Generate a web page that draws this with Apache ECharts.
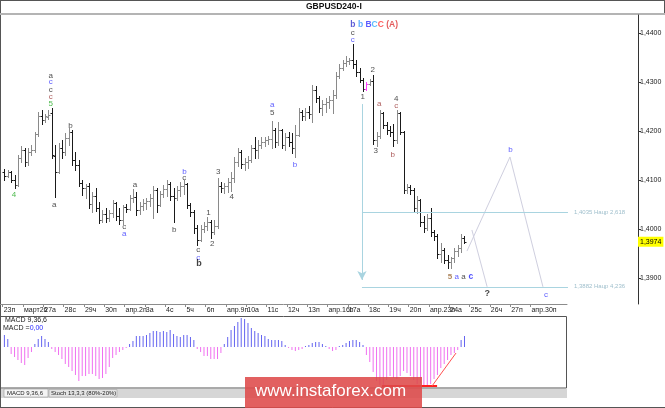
<!DOCTYPE html>
<html>
<head>
<meta charset="utf-8">
<script src="https://cdn.jsdelivr.net/npm/echarts@6/dist/echarts.min.js"></script>
<style>
  html, body { margin: 0; padding: 0; background: #fff; }
  #chart { width: 665px; height: 408px; }
</style>
</head>
<body>
<div id="chart"></div>
<script>
// day labels, one per trading day (6 bars of 4h each)
const dayLabels = ['23п', 'март26', '27а', '28с', '29ч', '30п', 'апр.2п', '3а', '4с', '5ч', '6п',
  'апр.9п', '10а', '11с', '12ч', '13п', 'апр.16п', '17а', '18с', '19ч', '20п', 'апр.23п', '24а',
  '25с', '26ч', '27п', 'апр.30п', '1а']
const barsPerDay = 6

const opens = [1.4116, 1.4108, 1.4116, 1.4100, 1.4090, 1.4145, 1.4161, 1.4137, 1.4157, 1.4161,
  1.4194, 1.4231, 1.4222, 1.4229, 1.4237, 1.4149, 1.4116, 1.4165, 1.4157, 1.4186,
  1.4198, 1.4141, 1.4131, 1.4094, 1.4084, 1.4088, 1.4051, 1.4067, 1.4043, 1.4018,
  1.4031, 1.4023, 1.4033, 1.4053, 1.4027, 1.4018, 1.4045, 1.4041, 1.4063, 1.4065,
  1.4039, 1.4047, 1.4053, 1.4057, 1.4063, 1.4080, 1.4049, 1.4071, 1.4082, 1.4092,
  1.4067, 1.4063, 1.4080, 1.4088, 1.4092, 1.4049, 1.4035, 1.4002, 1.3978, 1.4000,
  1.4006, 1.4014, 1.3994, 1.4006, 1.4088, 1.4084, 1.4088, 1.4096, 1.4104, 1.4137,
  1.4157, 1.4133, 1.4137, 1.4141, 1.4165, 1.4161, 1.4171, 1.4178, 1.4182, 1.4184,
  1.4202, 1.4178, 1.4202, 1.4171, 1.4188, 1.4178, 1.4165, 1.4192, 1.4239, 1.4231,
  1.4239, 1.4235, 1.4284, 1.4267, 1.4247, 1.4255, 1.4259, 1.4263, 1.4273, 1.4312,
  1.4329, 1.4339, 1.4343, 1.4345, 1.4337, 1.4320, 1.4304, 1.4286, 1.4296, 1.4302,
  1.4182, 1.4190, 1.4237, 1.4212, 1.4202, 1.4198, 1.4182, 1.4237, 1.4198, 1.4080,
  1.4086, 1.4080, 1.4043, 1.4059, 1.4014, 1.4002, 1.4023, 1.3994, 1.3986, 1.3949,
  1.3957, 1.3937, 1.3933, 1.3941, 1.3955, 1.3961, 1.3982]
const highs = [1.4123, 1.4120, 1.4118, 1.4110, 1.4151, 1.4169, 1.4165, 1.4165, 1.4171, 1.4198,
  1.4239, 1.4243, 1.4235, 1.4243, 1.4247, 1.4171, 1.4176, 1.4182, 1.4196, 1.4206,
  1.4202, 1.4157, 1.4141, 1.4100, 1.4092, 1.4094, 1.4076, 1.4084, 1.4055, 1.4039,
  1.4043, 1.4039, 1.4059, 1.4055, 1.4043, 1.4049, 1.4051, 1.4069, 1.4082, 1.4076,
  1.4055, 1.4061, 1.4063, 1.4071, 1.4088, 1.4084, 1.4078, 1.4090, 1.4100, 1.4096,
  1.4084, 1.4088, 1.4096, 1.4100, 1.4094, 1.4053, 1.4039, 1.4008, 1.4008, 1.4014,
  1.4025, 1.4018, 1.4018, 1.4104, 1.4096, 1.4094, 1.4104, 1.4116, 1.4147, 1.4165,
  1.4161, 1.4145, 1.4149, 1.4171, 1.4188, 1.4182, 1.4188, 1.4188, 1.4190, 1.4220,
  1.4206, 1.4218, 1.4204, 1.4196, 1.4198, 1.4196, 1.4212, 1.4247, 1.4243, 1.4247,
  1.4251, 1.4294, 1.4292, 1.4271, 1.4263, 1.4267, 1.4271, 1.4284, 1.4320, 1.4337,
  1.4345, 1.4353, 1.4349, 1.4378, 1.4345, 1.4329, 1.4308, 1.4300, 1.4306, 1.4314,
  1.4198, 1.4243, 1.4239, 1.4218, 1.4210, 1.4214, 1.4243, 1.4239, 1.4200, 1.4092,
  1.4090, 1.4084, 1.4067, 1.4061, 1.4027, 1.4031, 1.4043, 1.3998, 1.3990, 1.3972,
  1.3961, 1.3947, 1.3943, 1.3961, 1.3967, 1.3990, 1.3986]
const lows = [1.4100, 1.4106, 1.4096, 1.4084, 1.4088, 1.4137, 1.4129, 1.4131, 1.4151, 1.4157,
  1.4190, 1.4214, 1.4218, 1.4225, 1.4145, 1.4065, 1.4114, 1.4145, 1.4151, 1.4171,
  1.4131, 1.4120, 1.4088, 1.4069, 1.4063, 1.4043, 1.4035, 1.4037, 1.4012, 1.4014,
  1.4014, 1.4016, 1.4025, 1.4018, 1.4010, 1.4010, 1.4035, 1.4039, 1.4055, 1.4029,
  1.4031, 1.4039, 1.4041, 1.4047, 1.4023, 1.4035, 1.4047, 1.4065, 1.4067, 1.4059,
  1.4014, 1.4059, 1.4067, 1.4071, 1.4043, 1.4027, 1.3992, 1.3967, 1.3976, 1.3994,
  1.3998, 1.3982, 1.3990, 1.4002, 1.4076, 1.4074, 1.4076, 1.4078, 1.4096, 1.4129,
  1.4125, 1.4120, 1.4125, 1.4137, 1.4145, 1.4145, 1.4165, 1.4169, 1.4174, 1.4165,
  1.4167, 1.4171, 1.4165, 1.4161, 1.4169, 1.4155, 1.4147, 1.4190, 1.4222, 1.4222,
  1.4227, 1.4218, 1.4259, 1.4239, 1.4233, 1.4239, 1.4247, 1.4237, 1.4267, 1.4308,
  1.4325, 1.4333, 1.4337, 1.4329, 1.4312, 1.4300, 1.4282, 1.4284, 1.4294, 1.4174,
  1.4169, 1.4186, 1.4206, 1.4194, 1.4190, 1.4169, 1.4176, 1.4194, 1.4074, 1.4074,
  1.4071, 1.4035, 1.4033, 1.4006, 1.3994, 1.3998, 1.3986, 1.3978, 1.3941, 1.3933,
  1.3931, 1.3921, 1.3921, 1.3933, 1.3945, 1.3953, 1.3972]
const closes = [1.4108, 1.4116, 1.4100, 1.4090, 1.4145, 1.4161, 1.4137, 1.4157, 1.4161, 1.4194,
  1.4231, 1.4222, 1.4231, 1.4233, 1.4151, 1.4116, 1.4165, 1.4157, 1.4186, 1.4198,
  1.4141, 1.4131, 1.4094, 1.4084, 1.4088, 1.4051, 1.4067, 1.4043, 1.4018, 1.4031,
  1.4023, 1.4033, 1.4053, 1.4027, 1.4018, 1.4045, 1.4041, 1.4063, 1.4065, 1.4039,
  1.4047, 1.4053, 1.4057, 1.4063, 1.4080, 1.4049, 1.4071, 1.4082, 1.4092, 1.4067,
  1.4063, 1.4080, 1.4088, 1.4092, 1.4049, 1.4035, 1.4002, 1.3978, 1.4000, 1.4006,
  1.4014, 1.3994, 1.4006, 1.4088, 1.4084, 1.4088, 1.4096, 1.4104, 1.4137, 1.4157,
  1.4133, 1.4137, 1.4141, 1.4165, 1.4161, 1.4171, 1.4178, 1.4182, 1.4184, 1.4202,
  1.4178, 1.4202, 1.4171, 1.4188, 1.4178, 1.4165, 1.4192, 1.4239, 1.4231, 1.4239,
  1.4235, 1.4284, 1.4267, 1.4247, 1.4255, 1.4259, 1.4263, 1.4273, 1.4312, 1.4329,
  1.4339, 1.4343, 1.4345, 1.4337, 1.4320, 1.4304, 1.4286, 1.4296, 1.4302, 1.4182,
  1.4190, 1.4237, 1.4212, 1.4202, 1.4198, 1.4182, 1.4237, 1.4198, 1.4080, 1.4086,
  1.4080, 1.4043, 1.4059, 1.4014, 1.4002, 1.4023, 1.3994, 1.3986, 1.3949, 1.3957,
  1.3937, 1.3933, 1.3941, 1.3955, 1.3961, 1.3982, 1.3974]

// MACD 9,36,6 histogram, one value per bar
const macdHist = [0.0012, 0.0008, -0.0007, -0.0010, -0.0013, -0.0016, -0.0018, -0.0011, -0.0005, 0.0003,
  0.0008, 0.0011, 0.0008, 0.0005, -0.0002, -0.0005, -0.0008, -0.0012, -0.0017, -0.0020,
  -0.0024, -0.0028, -0.0034, -0.0029, -0.0029, -0.0027, -0.0027, -0.0029, -0.0032, -0.0031,
  -0.0027, -0.0020, -0.0011, -0.0008, -0.0005, -0.0003, -0.0001, 0.0003, 0.0006, 0.0011,
  0.0011, 0.0011, 0.0012, 0.0014, 0.0016, 0.0016, 0.0015, 0.0016, 0.0015, 0.0017,
  0.0013, 0.0011, 0.0010, 0.0012, 0.0012, 0.0010, 0.0007, -0.0002, -0.0005, -0.0009,
  -0.0009, -0.0012, -0.0012, -0.0012, -0.0006, 0.0003, 0.0010, 0.0017, 0.0021, 0.0025,
  0.0029, 0.0028, 0.0024, 0.0019, 0.0016, 0.0014, 0.0012, 0.0011, 0.0008, 0.0007,
  0.0007, 0.0007, 0.0006, 0.0002, -0.0001, -0.0003, -0.0004, -0.0003, -0.0002, 0.0001,
  0.0002, 0.0004, 0.0005, 0.0005, 0.0003, 0.0001, -0.0002, -0.0004, -0.0003, 0.0001,
  0.0002, 0.0004, 0.0006, 0.0007, 0.0007, 0.0005, 0.0002, -0.0008, -0.0015, -0.0025,
  -0.0034, -0.0038, -0.0038, -0.0033, -0.0029, -0.0031, -0.0032, -0.0029, -0.0024, -0.0026,
  -0.0029, -0.0033, -0.0037, -0.0036, -0.0038, -0.0039, -0.0037, -0.0032, -0.0028, -0.0021,
  -0.0017, -0.0013, -0.0008, -0.0006, -0.0003, 0.0007, 0.0011]

const priceTicks = [1.39, 1.40, 1.41, 1.42, 1.43, 1.44]
const priceMin = 1.384694
const priceMax = 1.443673
const lastPrice = 1.3974
const markedBar = 107

// expansion levels drawn from the vertical measuring line
const fibLevels = [1.4035, 1.3882]
const fibTexts = ['1,4035 Нацр 2,618', '1,3882 Нацр 4,236']
const fibStart = 105.7
const fibEnd = 166.6
const measureLine = [[105.7, 1.4255], [105.7, 1.3896]]

// projected waves
const projMain = [[136.75, 1.3955], [149.45, 1.4147], [159.2, 1.3882]]
const projAlt = [[138.2, 1.3998], [142.7, 1.3882]]

// MACD trend marks
const macdFloor = [[111.6, -0.0039], [127.9, -0.0039]]
const macdTrend = [[126.4, -0.0039], [133.5, -0.0006]]

// wave labels [bar, price, text]
const labelsDark = [[13.7, 1.4312, 'a'], [13.7, 1.4285, 'c'], [19.5, 1.4211, 'b'], [14.7, 1.4049, 'a'],
  [35.4, 1.4004, 'c'], [38.6, 1.4090, 'a'], [50.2, 1.3998, 'b'], [53.2, 1.4104, 'c'],
  [57.3, 1.3957, 'c'], [60.3, 1.4034, '1'], [61.4, 1.3969, '2'], [63.2, 1.4117, '3'],
  [67.2, 1.4066, '4'], [79.2, 1.4237, '5'], [103.0, 1.4401, 'c'], [108.9, 1.4324, '2'],
  [105.9, 1.4270, '1'], [115.8, 1.4265, '4'], [109.8, 1.4160, '3'], [135.7, 1.3903, 'a']]
const labelsBlue = [[13.7, 1.4301, 'c'], [35.4, 1.3991, 'a'], [53.2, 1.4117, 'b'], [57.3, 1.3942, 'c'],
  [79.2, 1.4253, 'a'], [85.9, 1.4131, 'b'], [103.0, 1.4387, 'c'], [133.7, 1.3903, 'a'],
  [149.6, 1.4161, 'b'], [160.1, 1.3865, 'c']]
const labelsBlueBold = [[137.9, 1.3903, 'c']]
const labelsRed = [[13.7, 1.4269, 'c'], [110.8, 1.4256, 'a'], [115.8, 1.4251, 'c'], [114.8, 1.4151, 'b']]
const labelsGreen = [[13.7, 1.4255, '5'], [2.8, 1.4069, '4']]
const labelsBrown = [[131.7, 1.3903, '5']]
const labelsBold = [[57.5, 1.3929, 'b'], [142.7, 1.3869, '?']]
const headerLabel = [[103.0, 1.4418, 'b b BCC (A)']]

const FONT = 'Liberation Sans'
const fmtPrice = v => v.toFixed(4).replace('.', ',')
const dayTicks = dayLabels.map((_, d) => d * barsPerDay - 0.5)

const bars = opens.map((o, i) => [i, o, highs[i], lows[i], closes[i]])

function renderBar(params, api) {
  const i = api.value(0)
  const o = api.coord([i, api.value(1)])
  const h = api.coord([i, api.value(2)])
  const l = api.coord([i, api.value(3)])
  const c = api.coord([i, api.value(4)])
  const x = Math.round(o[0]) + 0.5
  const up = api.value(4) >= api.value(1)
  const color = i === markedBar ? '#ff40ff' : (up ? '#8a8a8a' : '#1a1a1a')
  const style = { stroke: color, lineWidth: 1 }
  const yo = Math.round(o[1]) + 0.5
  const yc = Math.round(c[1]) + 0.5
  return {
    type: 'group',
    children: [
      { type: 'line', shape: { x1: x, y1: Math.round(h[1]), x2: x, y2: Math.round(l[1]) + 1 }, style },
      { type: 'line', shape: { x1: x - 2, y1: yo, x2: x, y2: yo }, style },
      { type: 'line', shape: { x1: x, y1: yc, x2: x + 2, y2: yc }, style }
    ]
  }
}

function labelSeries(data, color, extra) {
  return {
    type: 'scatter', xAxisIndex: 0, yAxisIndex: 0, data, symbolSize: 0.1, silent: true,
    itemStyle: { color: 'transparent' }, z: 5,
    label: Object.assign({
      show: true, position: 'inside', formatter: p => p.value[2],
      color, fontSize: 8, fontFamily: FONT
    }, extra || {})
  }
}

const chart = echarts.init(document.getElementById('chart'))
chart.setOption({
  backgroundColor: '#fff',
  animation: false,
  textStyle: { fontFamily: FONT },
  grid: [
    { left: 0, right: 27, top: 15, height: 289 },
    { left: 0, width: 567, top: 316, height: 72 },
    { left: 0, width: 567, top: 15, height: 289 }
  ],
  xAxis: [
    { type: 'value', gridIndex: 0, min: -1.3, max: 187.3, show: false },
    { type: 'value', gridIndex: 1, min: -1.3, max: 166.3, show: false },
    {
      type: 'value', gridIndex: 2, min: -1.3, max: 166.3,
      splitLine: { show: false },
      axisLine: { show: true, onZero: false, lineStyle: { color: '#8c8c8c', width: 1 } },
      axisTick: { show: true, customValues: dayTicks, length: 3, lineStyle: { color: '#8c8c8c' } },
      axisLabel: {
        customValues: dayTicks, align: 'left', margin: 3, fontSize: 7, color: '#222',
        padding: [0, 0, 0, 1],
        formatter: v => dayLabels[Math.round((v + 0.5) / barsPerDay)]
      }
    }
  ],
  yAxis: [
    {
      type: 'value', gridIndex: 0, position: 'right', min: priceMin, max: priceMax,
      splitLine: { show: false },
      axisLine: { show: true, onZero: false, lineStyle: { color: '#333' } },
      axisTick: { show: true, customValues: priceTicks, length: 3, lineStyle: { color: '#333' } },
      axisLabel: { customValues: priceTicks, formatter: fmtPrice, fontSize: 7, margin: 2, color: '#222' }
    },
    { type: 'value', gridIndex: 1, min: -0.0041, max: 0.0031, show: false },
    { type: 'value', gridIndex: 2, min: priceMin, max: priceMax, show: false }
  ],
  series: [
    {
      type: 'custom', xAxisIndex: 0, yAxisIndex: 0, data: bars,
      encode: { x: 0, y: [1, 2, 3, 4] }, renderItem: renderBar, silent: true, z: 3
    },
    {
      type: 'line', xAxisIndex: 0, yAxisIndex: 0, data: projMain, symbol: 'none', silent: true,
      lineStyle: { color: '#cfcfdf', width: 1 }, z: 2,
      markLine: {
        silent: true, symbol: 'none', animation: false,
        data: [
          ...fibLevels.map((lv, i) => [
            { coord: [fibStart, lv], lineStyle: { color: '#a9d4e0', width: 1, type: 'solid' },
              label: { show: true, position: 'end', formatter: fibTexts[i], color: '#9fbfcc', fontSize: 6, distance: 6 } },
            { coord: [fibEnd, lv] }
          ]),
          [
            { coord: measureLine[0], symbol: 'none', lineStyle: { color: '#a9d4e0', width: 1, type: 'solid' }, label: { show: false } },
            { coord: measureLine[1], symbol: 'arrow', symbolSize: [7, 9] }
          ],
          [
            { coord: [-1.3, lastPrice], lineStyle: { color: 'rgba(0,0,0,0)', width: 1 },
              label: { show: true, position: 'end', formatter: fmtPrice(lastPrice), backgroundColor: '#ffff00',
                color: '#000', fontSize: 7, padding: [2, 2, 1, 2], distance: 0 } },
            { coord: [187.3, lastPrice] }
          ]
        ]
      }
    },
    {
      type: 'line', xAxisIndex: 0, yAxisIndex: 0, data: projAlt, symbol: 'none', silent: true,
      lineStyle: { color: '#cfcfdf', width: 1 }, z: 2
    },
    labelSeries(labelsDark, '#222'),
    labelSeries(labelsBlue, '#3333ff'),
    labelSeries(labelsBlueBold, '#2222ff', { fontWeight: 'bold', fontSize: 8.5 }),
    labelSeries(labelsRed, '#993333'),
    labelSeries(labelsGreen, '#22aa22'),
    labelSeries(labelsBrown, '#996633', { fontWeight: 'bold' }),
    labelSeries(labelsBold, '#111', { fontWeight: 'bold', fontSize: 9 }),
    labelSeries(headerLabel, '#333', {
      align: 'left', offset: [-2.5, 0], fontWeight: 'bold', fontSize: 8.5,
      formatter: '{a|b} {b|b} {c|B}{d|C}{e|C} {f|(A)}',
      rich: {
        a: { color: '#3333cc', fontWeight: 'bold', fontSize: 8.5 },
        b: { color: '#3399ff', fontWeight: 'bold', fontSize: 8.5 },
        c: { color: '#3333ff', fontWeight: 'bold', fontSize: 8.5 },
        d: { color: '#33aaff', fontWeight: 'bold', fontSize: 8.5 },
        e: { color: '#ff3333', fontWeight: 'bold', fontSize: 8.5 },
        f: { color: '#dd3333', fontWeight: 'bold', fontSize: 8.5 }
      }
    }),
    {
      type: 'bar', xAxisIndex: 1, yAxisIndex: 1, barWidth: 1, silent: true,
      data: macdHist.map((v, i) => [i, v]),
      itemStyle: { color: p => (p.value[1] >= 0 ? '#6464f0' : '#f070f0') },
      markLine: {
        silent: true, symbol: 'none', animation: false, label: { show: false },
        data: [
          [{ coord: macdFloor[0], lineStyle: { color: '#ff2020', width: 2, type: 'solid' } }, { coord: macdFloor[1] }],
          [{ coord: macdTrend[0], lineStyle: { color: '#ff5050', width: 1, type: 'solid' } }, { coord: macdTrend[1] }]
        ]
      }
    }
  ],
  graphic: [
    // frame and title bar
    { type: 'line', shape: { x1: 0, y1: 0.5, x2: 665, y2: 0.5 }, style: { stroke: '#555' }, silent: true },
    { type: 'line', shape: { x1: 0.5, y1: 0, x2: 0.5, y2: 408 }, style: { stroke: '#555' }, silent: true },
    { type: 'line', shape: { x1: 0, y1: 407.5, x2: 665, y2: 407.5 }, style: { stroke: '#555' }, silent: true },
    { type: 'line', shape: { x1: 664.5, y1: 0, x2: 664.5, y2: 15 }, style: { stroke: '#555' }, silent: true },
    { type: 'rect', shape: { x: 0, y: 13, width: 665, height: 2 }, style: { fill: '#b4b4b4' }, silent: true },
    { type: 'text', left: 306, top: 2, silent: true,
      style: { text: 'GBPUSD240-I', fontSize: 8.5, fontWeight: 'bold', fill: '#111', fontFamily: FONT } },
    // MACD panel
    { type: 'rect', shape: { x: 0.5, y: 316.5, width: 566, height: 71.5 }, style: { fill: 'none', stroke: '#555' }, silent: true },
    { type: 'text', left: 5, top: 317, silent: true,
      style: { text: 'MACD 9,36,6', fontSize: 7, fill: '#222', fontFamily: FONT } },
    { type: 'text', left: 3, top: 324.5, silent: true,
      style: { text: '{k|MACD =}{v|0,00}', fontSize: 7, fontFamily: FONT,
        rich: { k: { fill: '#222', fontSize: 7 }, v: { fill: '#2a2aff', fontSize: 7 } } } },
    // tab strip
    { type: 'rect', shape: { x: 1, y: 389, width: 566, height: 9 }, style: { fill: '#d6d6d6' }, silent: true },
    { type: 'rect', shape: { x: 4, y: 389, width: 44, height: 8 }, style: { fill: '#f4f4f4', stroke: '#888', lineWidth: 0.5 }, silent: true },
    { type: 'rect', shape: { x: 49, y: 389.5, width: 68, height: 7.5 }, style: { fill: '#e4e4e4', stroke: '#999', lineWidth: 0.5 }, silent: true },
    { type: 'text', left: 7, top: 390, silent: true,
      style: { text: 'MACD 9,36,6', fontSize: 6, fill: '#222', fontFamily: FONT } },
    { type: 'text', left: 51, top: 390, silent: true,
      style: { text: 'Stoch 13,3,3 (80%-20%)', fontSize: 6, fill: '#222', fontFamily: FONT } },
    // watermark
    { type: 'rect', shape: { x: 245, y: 377, width: 177, height: 31 }, style: { fill: 'rgba(222,74,74,0.88)' }, z: 100, silent: true },
    { type: 'text', left: 255, top: 383, z: 101, silent: true,
      style: { text: 'www.instaforex.com', fontSize: 17, fill: '#fff', fontFamily: FONT } }
  ]
})
</script>
</body>
</html>
